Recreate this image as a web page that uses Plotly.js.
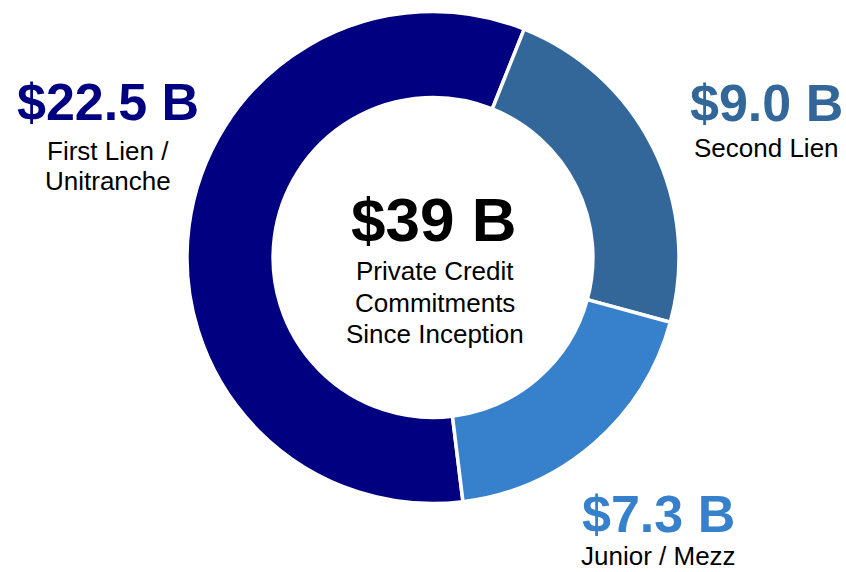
<!DOCTYPE html>
<html>
<head>
<meta charset="utf-8">
<script src="https://cdn.plot.ly/plotly-3.0.1.min.js"></script>
<style>
  html, body { margin: 0; padding: 0; background: #ffffff; }
  #chart { width: 846px; height: 572px; }
</style>
</head>
<body>
<div id="chart"></div>
<script>
// ---- Data ----
const categories = ["First Lien / Unitranche", "Second Lien", "Junior / Mezz"];
const valuesB = [22.5, 9.0, 7.3];
const sliceColors = ["#000080", "#336699", "#3680CC"];
const descLines = [["First Lien /", "Unitranche"], ["Second Lien"], ["Junior / Mezz"]];
const totalLabel = "$39 B";
const centerLines = ["Private Credit", "Commitments", "Since Inception"];

// ---- Layout helpers (pixel -> paper) ----
const W = 846, H = 572;
const px = x => x / W;
const py = y => 1 - y / H;

// label placement (pixel centers)
const labelPos = [
  { x: 108, valueY: 102, descY: [151, 181] },
  { x: 766, valueY: 103, descY: [148] },
  { x: 658, valueY: 514, descY: [556] }
];

const annotations = [];
categories.forEach((c, i) => {
  const p = labelPos[i];
  annotations.push({
    xref: "paper", yref: "paper", x: px(p.x), y: py(p.valueY),
    xanchor: "center", yanchor: "middle", showarrow: false,
    text: "<b>$" + valuesB[i].toFixed(1) + " B</b>",
    font: { family: "Liberation Sans, Arial, sans-serif", size: 52, color: sliceColors[i] }
  });
  descLines[i].forEach((ln, j) => {
    annotations.push({
      xref: "paper", yref: "paper", x: px(p.x), y: py(p.descY[j]),
      xanchor: "center", yanchor: "middle", showarrow: false,
      text: ln,
      font: { family: "Liberation Sans, Arial, sans-serif", size: 26, color: "#000000" }
    });
  });
});
annotations.push({
  xref: "paper", yref: "paper", x: px(434), y: py(219),
  xanchor: "center", yanchor: "middle", showarrow: false,
  text: "<b>" + totalLabel + "</b>",
  font: { family: "Liberation Sans, Arial, sans-serif", size: 62, color: "#000000" }
});
const centerY = [271, 303, 334];
centerLines.forEach((ln, j) => {
  annotations.push({
    xref: "paper", yref: "paper", x: px(435), y: py(centerY[j]),
    xanchor: "center", yanchor: "middle", showarrow: false,
    text: ln,
    font: { family: "Liberation Sans, Arial, sans-serif", size: 26, color: "#000000" }
  });
});

const trace = {
  type: "pie",
  labels: categories,
  values: valuesB,
  hole: 0.65,
  sort: false,
  direction: "clockwise",
  rotation: 173,
  textinfo: "none",
  hoverinfo: "label+value",
  marker: { colors: sliceColors, line: { color: "#ffffff", width: 3.5 } },
  domain: { x: [187 / W, 679 / W], y: [68.5 / H, 560.5 / H] },
  showlegend: false
};

const layout = {
  width: W, height: H,
  margin: { l: 0, r: 0, t: 0, b: 0 },
  paper_bgcolor: "#ffffff",
  showlegend: false,
  annotations: annotations
};

Plotly.newPlot("chart", [trace], layout, { displayModeBar: false, staticPlot: true });
</script>
</body>
</html>
